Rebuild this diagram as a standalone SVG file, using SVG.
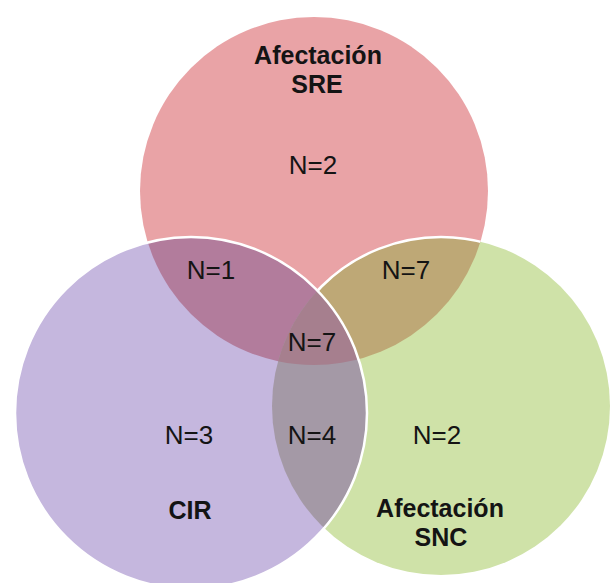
<svg xmlns="http://www.w3.org/2000/svg" width="614" height="583" viewBox="0 0 614 583">
<style>
  .lbl { font-family: "Liberation Sans", Arial, sans-serif; font-size: 26px; fill: #141414; text-anchor: middle; }
  .b { font-weight: bold; font-size: 25px; }
  .edge { fill: none; stroke: #ffffff; stroke-width: 2.5; }
</style>
<defs>
  <clipPath id="cRed"><circle cx="314" cy="191" r="174"/></clipPath>
  <clipPath id="cGreen"><circle cx="441" cy="406" r="169"/></clipPath>
  <clipPath id="cRedGreen" clip-path="url(#cRed)"><circle cx="441" cy="406" r="169"/></clipPath>
</defs>
<rect width="614" height="583" fill="#ffffff"/>
<g id="sre">
  <circle cx="314" cy="191" r="174" fill="#E9A3A6"/>
</g>
<g id="snc">
  <circle cx="441" cy="406" r="169" fill="#CFE2A8"/>
  <circle cx="441" cy="406" r="169" fill="#BEA876" clip-path="url(#cRed)"/>
  <circle class="edge" cx="441" cy="406" r="169" clip-path="url(#cRed)"/>
</g>
<g id="cir">
  <circle cx="191" cy="413" r="176" fill="#C5B7DE"/>
  <circle cx="191" cy="413" r="176" fill="#B27C9C" clip-path="url(#cRed)"/>
  <circle cx="191" cy="413" r="176" fill="#A499A6" clip-path="url(#cGreen)"/>
  <circle cx="191" cy="413" r="176" fill="#A67F8E" clip-path="url(#cRedGreen)"/>
  <circle class="edge" cx="191" cy="413" r="176"/>
</g>
<g id="connectors"></g>
<g id="labels">
  <text class="lbl b" x="318" y="64">Afectación</text>
  <text class="lbl b" x="317" y="93">SRE</text>
  <text class="lbl" x="313" y="174">N=2</text>
  <text class="lbl" x="211" y="279">N=1</text>
  <text class="lbl" x="406" y="279">N=7</text>
  <text class="lbl" x="312" y="351">N=7</text>
  <text class="lbl" x="189" y="444">N=3</text>
  <text class="lbl" x="312" y="444">N=4</text>
  <text class="lbl" x="437" y="444">N=2</text>
  <text class="lbl b" x="190" y="519">CIR</text>
  <text class="lbl b" x="440" y="517">Afectación</text>
  <text class="lbl b" x="441" y="546">SNC</text>
</g>
</svg>
